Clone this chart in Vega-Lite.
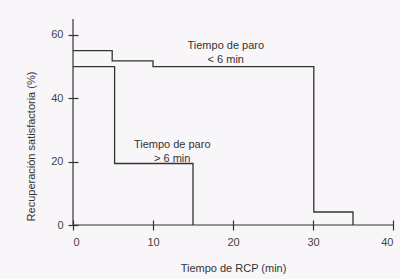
{
  "$schema": "https://vega.github.io/schema/vega-lite/v6.json",
  "width": 320,
  "height": 206,
  "autosize": {"type": "none"},
  "padding": {"left": 73, "top": 19, "right": 7, "bottom": 54},
  "background": "#f9f6f9",
  "config": {"view": {"stroke": null}, "font": "Liberation Sans"},
  "datasets": {
    "curvas": [
      {"t": 0, "r": 55, "grupo": "Tiempo de paro < 6 min"},
      {"t": 4.9, "r": 51.8, "grupo": "Tiempo de paro < 6 min"},
      {"t": 10, "r": 50, "grupo": "Tiempo de paro < 6 min"},
      {"t": 30.1, "r": 4.1, "grupo": "Tiempo de paro < 6 min"},
      {"t": 35, "r": 0, "grupo": "Tiempo de paro < 6 min"},
      {"t": 0, "r": 50, "grupo": "Tiempo de paro > 6 min"},
      {"t": 5.2, "r": 19.4, "grupo": "Tiempo de paro > 6 min"},
      {"t": 15, "r": 0, "grupo": "Tiempo de paro > 6 min"}
    ],
    "etiquetas": [
      {"t": 19.1, "r": 56.6, "texto": "Tiempo de paro\n< 6 min"},
      {"t": 12.4, "r": 25.4, "texto": "Tiempo de paro\n> 6 min"}
    ],
    "ejes": [{"t": 0, "r": 0}]
  },
  "layer": [
    {
      "data": {"name": "curvas"},
      "mark": {"type": "line", "interpolate": "step-after", "color": "#333333", "strokeWidth": 1.3},
      "encoding": {
        "x": {
          "field": "t", "type": "quantitative",
          "scale": {"domain": [0, 40], "nice": false, "zero": false},
          "axis": {
            "values": [0, 5, 10, 15, 20, 25, 30, 35, 40],
            "offset": -5, "tickSize": 10, "domain": false, "grid": false,
            "tickColor": "#333333", "tickWidth": 1.2,
            "labelExpr": "datum.value % 10 === 0 ? datum.label : ''",
            "labelPadding": 6, "labelFontSize": 11, "labelColor": "#444444",
            "title": "Tiempo de RCP (min)", "titleFontWeight": "normal",
            "titleFontSize": 11, "titleColor": "#333333", "titlePadding": 15
          }
        },
        "y": {
          "field": "r", "type": "quantitative",
          "scale": {"domain": [0, 65], "nice": false, "zero": false},
          "axis": {
            "values": [0, 10, 20, 30, 40, 50, 60],
            "offset": -5, "tickSize": 10, "domain": false, "grid": false,
            "tickColor": "#333333", "tickWidth": 1.2,
            "labelExpr": "datum.value % 20 === 0 ? datum.label : ''",
            "labelPadding": 5, "labelFontSize": 11, "labelColor": "#444444",
            "title": "Recuperación satisfactoria (%)", "titleFontWeight": "normal",
            "titleFontSize": 11, "titleColor": "#333333", "titlePadding": 14,
            "titleY": 127
          }
        },
        "detail": {"field": "grupo", "type": "nominal"}
      }
    },
    {
      "data": {"name": "ejes"},
      "mark": {"type": "rule", "color": "#333333", "strokeWidth": 1.2},
      "encoding": {"y": {"field": "r", "type": "quantitative"}}
    },
    {
      "data": {"name": "ejes"},
      "mark": {"type": "rule", "color": "#333333", "strokeWidth": 1.2},
      "encoding": {"x": {"field": "t", "type": "quantitative"}}
    },
    {
      "data": {"name": "etiquetas"},
      "mark": {"type": "text", "lineBreak": "\n", "fontSize": 11, "color": "#333333", "lineHeight": 14, "baseline": "middle", "align": "center"},
      "encoding": {
        "x": {"field": "t", "type": "quantitative"},
        "y": {"field": "r", "type": "quantitative"},
        "text": {"field": "texto"}
      }
    }
  ]
}
